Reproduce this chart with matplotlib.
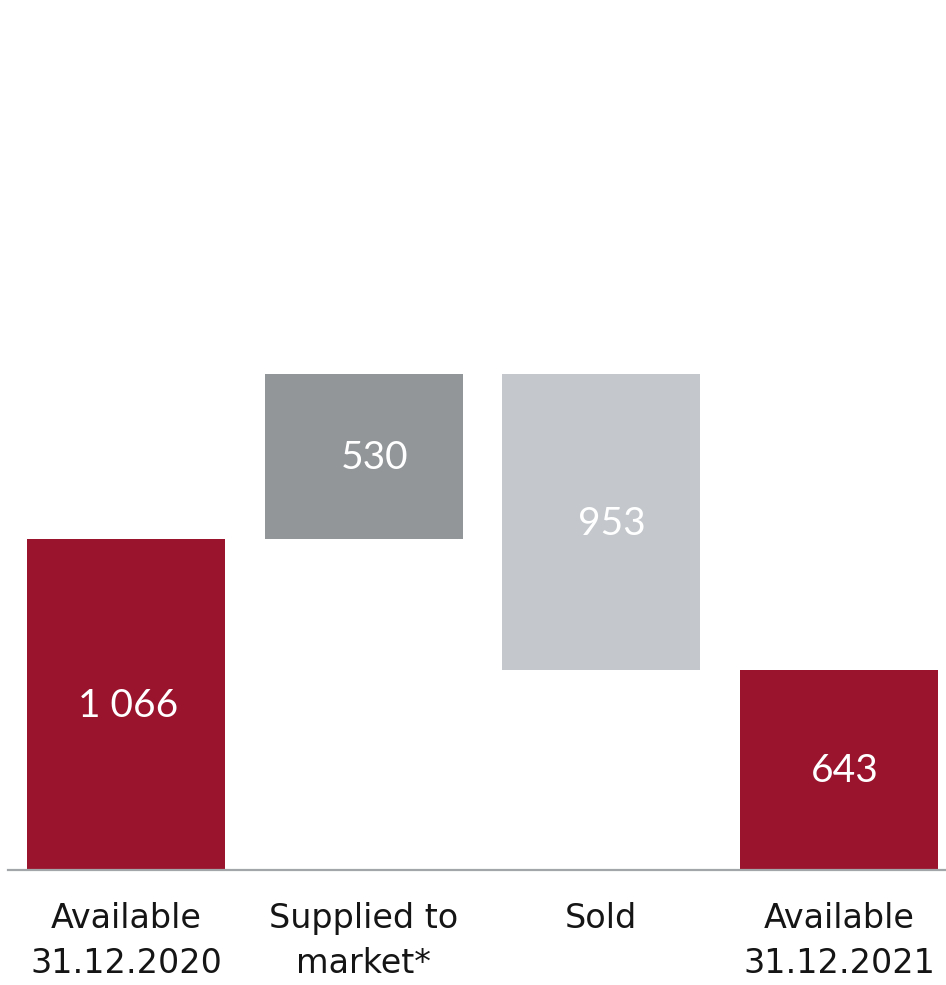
import matplotlib
matplotlib.use("Agg")
import matplotlib.pyplot as plt
import numpy as np

categories = ["Available\n31.12.2020", "Supplied to\nmarket*", "Sold", "Available\n31.12.2021"]
values = [1066, 530, -953, 643]
value_labels = ["1 066", "530", "953", "643"]
kinds = ["total", "delta", "delta", "total"]
colors = ["#9B142E", "#939699", "#C4C8CC", "#9B142E"]

plt.rcParams['font.family'] = ['DejaVu Sans']

W, H = 946, 985
fig = plt.figure(figsize=(W / 100, H / 100), dpi=100)
ax = fig.add_axes([8 / W, (H - 870) / H, (W - 8) / W, 870 / H])

# compute bottoms / heights
bottoms, heights = [], []
running = 0
for v, k in zip(values, kinds):
    if k == "total":
        bottoms.append(0)
        heights.append(v)
        running = v
    else:
        if v >= 0:
            bottoms.append(running)
            heights.append(v)
        else:
            bottoms.append(running + v)
            heights.append(-v)
        running += v

x = np.arange(len(categories))
ax.bar(x, heights, bottom=bottoms, width=0.833, color=colors, zorder=2)

offsets = [0.01, 0.045, 0.045, 0.025]
for xi, b, h, lab, off in zip(x, bottoms, heights, value_labels, offsets):
    ax.text(xi + off, b + h / 2 - 4, lab, ha="center", va="center", color="white",
            fontsize=28, fontweight="normal", family=["Lato", "DejaVu Sans"])

ax.set_xlim(-0.4965, -0.4965 + (W - 8) / 237.67)
ax.set_ylim(0, 870 / 0.3105)

for s in ["top", "right", "left"]:
    ax.spines[s].set_visible(False)
ax.spines["bottom"].set_color("#A3A6A9")
ax.spines["bottom"].set_linewidth(1.6)
ax.spines["bottom"].set_zorder(3)
ax.set_yticks([])
ax.set_xticks(x)
ax.set_xticklabels(categories, fontsize=24, color="#151515", linespacing=1.46)
ax.tick_params(axis="x", length=0, pad=23)

fig.savefig("out.png", dpi=100)
